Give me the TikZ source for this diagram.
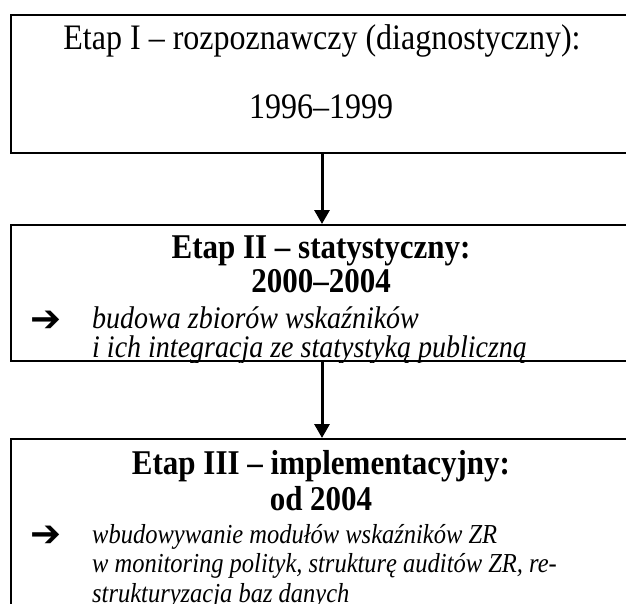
\documentclass[tikz,border=0pt]{standalone}
\usepackage{fontspec}
\usepackage{graphicx}
\setmainfont{Liberation Serif}
\newfontfamily\symfont{DejaVu Sans}
\usetikzlibrary{arrows.meta}
\newcommand\tallbox[1]{\scalebox{1}[1.12]{#1}}
\begin{document}
\begin{tikzpicture}[x=1pt,y=-1pt,
  box/.style={draw=black,line width=2pt,rectangle,anchor=north west,inner sep=0pt,minimum width=622pt},
  conn/.style={line width=3pt,-{Triangle[width=15pt,length=14pt]}},
  plain/.style={font=\fontsize{32}{32}\selectfont,anchor=base,inner sep=0pt},
  title/.style={font=\fontsize{31}{31}\selectfont\bfseries,anchor=base,inner sep=0pt},
  item/.style={font=\fontsize{24.5}{26}\selectfont\itshape,anchor=base west,inner sep=0pt},
  itemb/.style={font=\fontsize{28}{30}\selectfont\itshape,anchor=base west,inner sep=0pt},
  bullet/.style={font=\fontsize{37}{37}\selectfont\symfont,anchor=base west,inner sep=0pt}]
\useasboundingbox (0,0) rectangle (626,604);
\clip (0,0) rectangle (626,604);
\node[box,minimum height=138pt] (b1) at (10,14) {};
\node[box,minimum height=136pt] (b2) at (10,224) {};
\node[box,minimum height=200pt] (b3) at (10,438) {};
\node[plain] (t1a) at (322,50) {\tallbox{Etap I – rozpoznawczy (diagnostyczny):}};
\node[plain] (t1b) at (321,119) {\tallbox{1996–1999}};
\begin{scope}
\clip (b2.north west) rectangle (b2.south east);
\node[title] (t2a) at (321,258) {\tallbox{Etap II – statystyczny:}};
\node[title] (t2b) at (321,292) {\tallbox{2000–2004}};
\node[bullet] (a2) at (30,331) {➔};
\node[itemb] (t2c) at (92,328) {\tallbox{budowa zbiorów wskaźników}};
\node[itemb] (t2d) at (92,357) {\tallbox{i ich integracja ze statystyką publiczną}};
\end{scope}
\node[title] (t3a) at (321,474) {\tallbox{Etap III – implementacyjny:}};
\node[title] (t3b) at (321,510) {\tallbox{od 2004}};
\node[bullet] (a3) at (30,546) {➔};
\node[item] (t3c) at (92,543) {\tallbox{wbudowywanie modułów wskaźników ZR}};
\node[item] (t3d) at (92,572) {\tallbox{w monitoring polityk, strukturę auditów ZR, re-}};
\node[item] (t3e) at (92,602) {\tallbox{strukturyzacja baz danych}};
\draw[conn] (b1.south) -- (b2.north);
\draw[conn] (b2.south) -- (b3.north);
\end{tikzpicture}
\end{document}
